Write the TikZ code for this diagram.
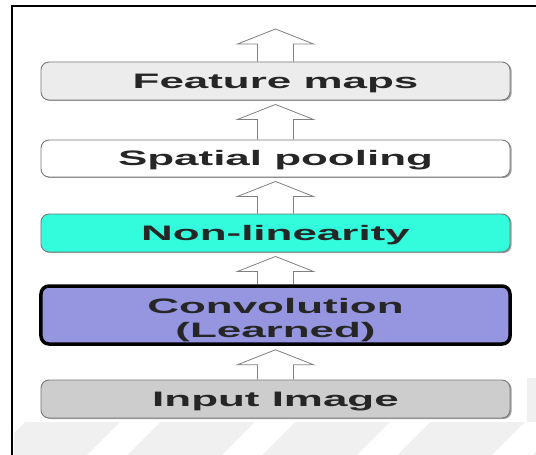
\documentclass[tikz,border=0pt]{standalone}
\usepackage{fontspec}
\setmainfont{Liberation Sans}
\usetikzlibrary{calc,shadows,backgrounds}
\definecolor{edgegray}{RGB}{120,120,120}
\definecolor{mapsgray}{RGB}{236,236,236}
\definecolor{nonlincyan}{RGB}{50,252,220}
\definecolor{convblue}{RGB}{150,150,224}
\definecolor{inputgray}{RGB}{205,205,205}
\definecolor{markgray}{RGB}{240,240,240}
\newcommand{\wide}[1]{\scalebox{2.1}[1]{#1}}
% hollow up arrow from the north side of #1 to just under #2
\newcommand{\liftarrow}[2]{%
  \draw [lift arrow] ($(#1.north)+(-18,0)$) |- ($(#2)+(-38,19)$)
    -- ($(#2)+(0,4)$) -- ($(#2)+(38,19)$) -| ($(#1.north)+(18,0)$);}
\tikzset{
  layer box/.style={
    draw=edgegray,
    line width=0.9bp,
    rounded corners=8bp,
    minimum width=469bp,
    inner sep=0pt,
    align=center,
    font=\fontsize{21}{24.5}\selectfont\bfseries,
    text=black!85,
    drop shadow={shadow xshift=1.6bp, shadow yshift=-1bp, fill=gray!75, opacity=1}
  },
  one line/.style={text height=15bp, text depth=0bp},
  lift arrow/.style={
    draw=gray,
    fill=white,
    line width=0.8bp,
    line join=miter
  }
}

\begin{document}
\begin{tikzpicture}[x=1bp,y=-1bp]
\useasboundingbox (0,0) rectangle (536,455);
\node (input) at (275.5,399) [layer box,one line,fill=inputgray,minimum height=38bp] {\wide{Input Image}};
\node (conv) at (275.5,315) [layer box,fill=convblue,draw=black,line width=3.5bp,minimum height=58bp,text height=45bp,text depth=0bp] {\wide{Convolution}\\\wide{(Learned)}};
\node (nonlin) at (275.5,233) [layer box,one line,fill=nonlincyan,minimum height=38bp] {\wide{Non-linearity}};
\node (pool) at (275.5,158.5) [layer box,one line,fill=white,minimum height=37bp] {\wide{Spatial pooling}};
\node (maps) at (275.5,81) [layer box,one line,fill=mapsgray,minimum height=38bp] {\wide{Feature maps}};
\coordinate (out) at (275.5,25);
\begin{pgfonlayer}{background}
% faint watermark stripes
\begin{scope}
\clip (14,422) rectangle (536,455) (527,378) rectangle (536,455);
\fill [markgray] (14,378) rectangle (536,455);
\foreach \x in {-48,87,222,357,492}
  \fill [white] (\x,455) -- ++(40,0) -- ++(33,-33) -- ++(-40,0) -- cycle;
\end{scope}
\liftarrow{input}{conv.south}
\liftarrow{conv}{nonlin.south}
\liftarrow{nonlin}{pool.south}
\liftarrow{pool}{maps.south}
\liftarrow{maps}{out}
\end{pgfonlayer}
\draw [line width=2bp] (12,455) -- (12,6) -- (536,6);
\end{tikzpicture}
\end{document}
